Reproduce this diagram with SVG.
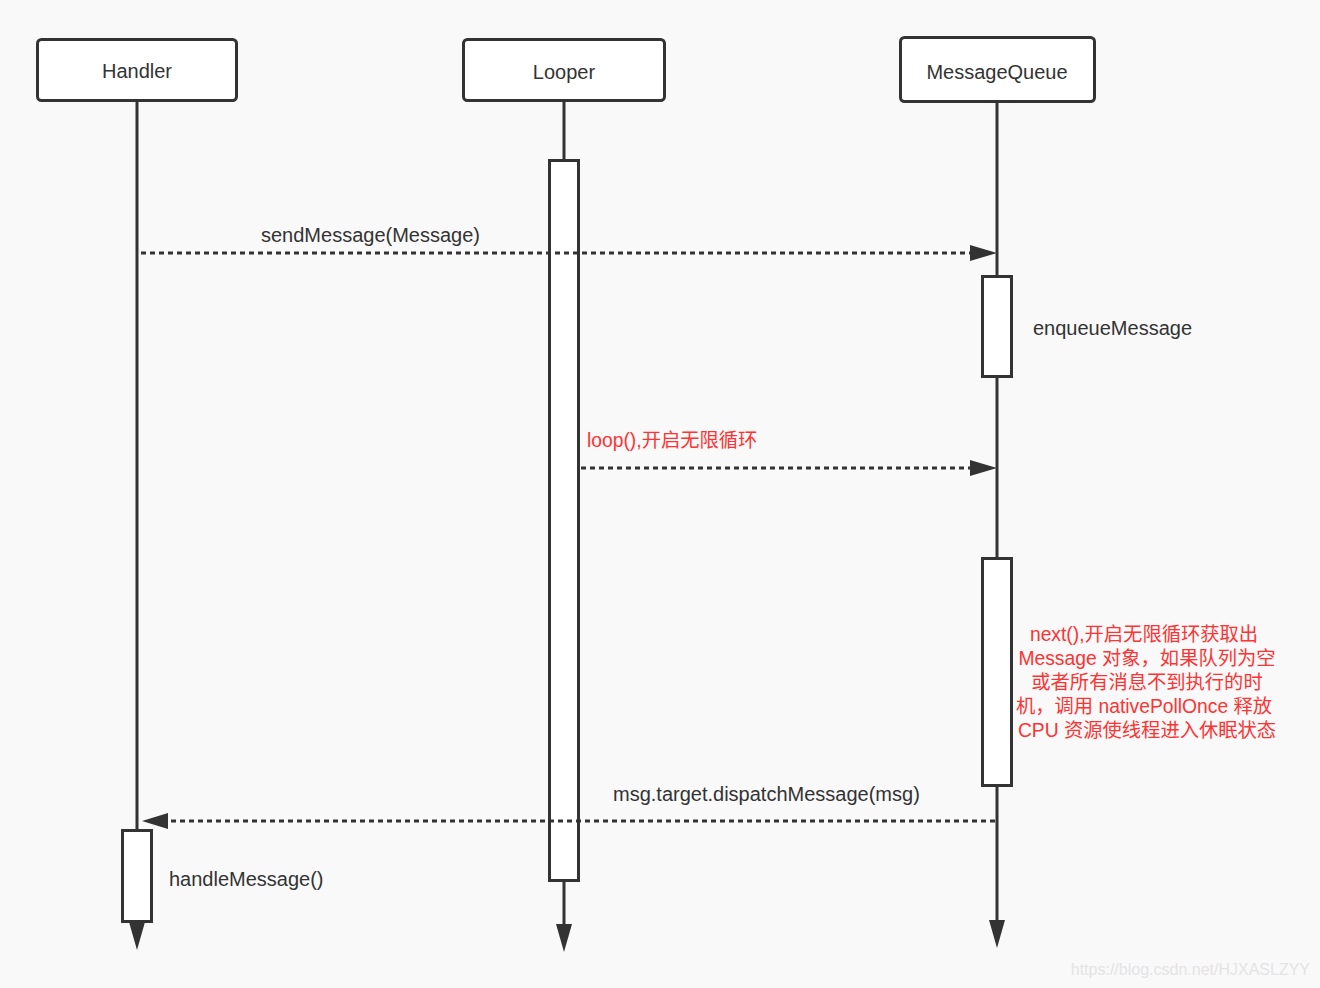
<svg xmlns="http://www.w3.org/2000/svg" width="1320" height="988" viewBox="0 0 1320 988">
<defs>
<style>
.box{fill:#fff;stroke:#333;stroke-width:3}
.life{stroke:#333;stroke-width:3;fill:none}
.act{fill:#fff;stroke:#333;stroke-width:3}
.msg{stroke:#333;stroke-width:3;stroke-dasharray:5 4;fill:none}
.head{fill:#333}
.t{font-family:"Liberation Sans","Noto Sans CJK SC",Arial,sans-serif;font-size:20px;fill:#333}
.r{font-family:"Liberation Sans","Noto Sans CJK SC",Arial,sans-serif;font-size:19.3px;fill:#ff3333}
</style>
</defs>
<rect width="1320" height="988" fill="#f9f9f9"/>
<g id="lifelines">
<line class="life" x1="137" y1="101" x2="137" y2="922"/>
<path class="head" d="M129,922 L145,922 L137,950 Z"/>
<line class="life" x1="564" y1="101" x2="564" y2="924"/>
<path class="head" d="M556,924 L572,924 L564,952 Z"/>
<line class="life" x1="997" y1="102" x2="997" y2="920"/>
<path class="head" d="M989,920 L1005,920 L997,948 Z"/>
</g>
<g id="Handler">
<rect class="box" x="37.5" y="39.5" width="199" height="61" rx="4"/>
<text class="t" x="137" y="78" text-anchor="middle">Handler</text>
</g>
<g id="Looper">
<rect class="box" x="463.5" y="39.5" width="201" height="61" rx="4"/>
<text class="t" x="564" y="79" text-anchor="middle">Looper</text>
</g>
<g id="MessageQueue">
<rect class="box" x="900.5" y="37.5" width="194" height="64" rx="4"/>
<text class="t" x="997" y="79" text-anchor="middle">MessageQueue</text>
</g>
<g id="looper-activation">
<rect class="act" x="549.5" y="160.5" width="29" height="720"/>
</g>
<g id="enqueue-activation">
<rect class="act" x="982.5" y="276.5" width="29" height="100"/>
<text class="t" x="1033" y="335">enqueueMessage</text>
</g>
<g id="next-activation">
<rect class="act" x="982.5" y="558.5" width="29" height="227"/>
<g class="r" text-anchor="middle">
<text x="1144" y="641">next(),开启无限循环获取出</text>
<text x="1147" y="665">Message 对象，如果队列为空</text>
<text x="1147" y="689">或者所有消息不到执行的时</text>
<text x="1144" y="713">机，调用 nativePollOnce 释放</text>
<text x="1147" y="737">CPU 资源使线程进入休眠状态</text>
</g>
</g>
<g id="handle-activation">
<rect class="act" x="122.5" y="830.5" width="29" height="91"/>
<text class="t" x="169" y="886">handleMessage()</text>
</g>
<g id="connectors">
<line class="msg" x1="141" y1="253" x2="970" y2="253"/>
<path class="head" d="M970,245 L997,253 L970,261 Z"/>
<line class="msg" x1="581" y1="468" x2="970" y2="468"/>
<path class="head" d="M970,460 L997,468 L970,476 Z"/>
<line class="msg" x1="995" y1="821" x2="168" y2="821"/>
<path class="head" d="M168,813 L142,821 L168,829 Z"/>
</g>
<g id="labels">
<text class="t" x="261" y="242">sendMessage(Message)</text>
<text class="r" x="587" y="447">loop(),开启无限循环</text>
<text class="t" x="613" y="801">msg.target.dispatchMessage(msg)</text>
</g>
<text x="1310" y="975" text-anchor="end" font-family="Liberation Sans,Arial,sans-serif" font-size="16" fill="#e4e4e4">https://blog.csdn.net/HJXASLZYY</text>
</svg>
